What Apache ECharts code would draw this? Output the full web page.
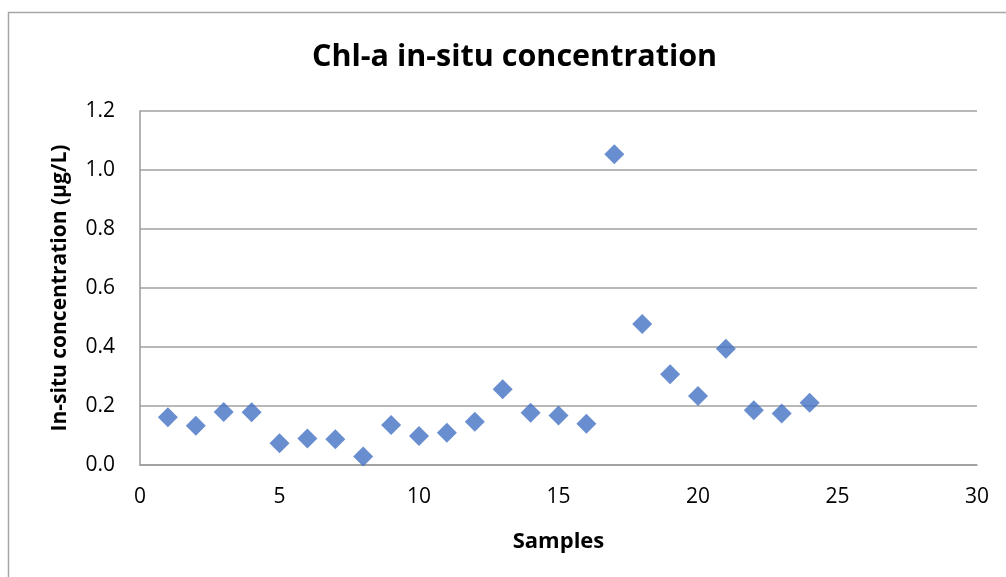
<!DOCTYPE html>
<html>
<head>
<meta charset="utf-8">
<script src="https://cdn.jsdelivr.net/npm/echarts@6/dist/echarts.min.js"></script>
<style>
  html, body { margin: 0; padding: 0; background: #fff; }
  #chart { width: 1006px; height: 577px; }
</style>
</head>
<body>
<div id="chart"></div>
<script>
// Sample numbers and measured chlorophyll-a (µg/L)
const samples = [1, 2, 3, 4, 5, 6, 7, 8, 9, 10, 11, 12, 13, 14, 15, 16, 17, 18, 19, 20, 21, 22, 23, 24];
const chlA = [0.162, 0.133, 0.180, 0.179, 0.074, 0.090, 0.087, 0.029, 0.136, 0.098, 0.109, 0.147,
              0.257, 0.177, 0.168, 0.140, 1.053, 0.478, 0.308, 0.234, 0.394, 0.186, 0.175, 0.211];
const xTicks = [0, 5, 10, 15, 20, 25, 30];
const yTicks = [0.0, 0.2, 0.4, 0.6, 0.8, 1.0, 1.2];

const FONT = '"Open Sans", Lato, sans-serif';
const points = samples.map((s, i) => [s, chlA[i]]);

const chart = echarts.init(document.getElementById('chart'), null, { renderer: 'canvas' });
chart.setOption({
  backgroundColor: '#ffffff',
  animation: false,
  graphic: [{
    type: 'rect',
    shape: { x: 8.5, y: 12.5, width: 1200, height: 800 },
    style: { fill: 'none', stroke: '#a6a6a6', lineWidth: 1.5 },
    silent: true
  }],
  title: {
    text: 'Chl-a in-situ concentration',
    left: 307,
    top: 37,
    textStyle: { fontFamily: FONT, fontWeight: 'bold', fontSize: 30.5, color: '#000' }
  },
  grid: { left: 140, right: 29, top: 111, bottom: 112 },
  xAxis: {
    type: 'value',
    min: xTicks[0],
    max: xTicks[xTicks.length - 1],
    interval: 5,
    name: 'Samples',
    nameLocation: 'middle',
    nameGap: 66,
    nameTextStyle: { fontFamily: FONT, fontWeight: 'bold', fontSize: 22, color: '#000' },
    axisLine: { show: true, lineStyle: { color: '#9a9a9a', width: 1.5 } },
    axisTick: { show: false },
    splitLine: { show: false },
    axisLabel: { fontFamily: FONT, fontSize: 21, color: '#000', margin: 22 }
  },
  yAxis: {
    type: 'value',
    min: yTicks[0],
    max: yTicks[yTicks.length - 1],
    interval: 0.2,
    name: 'In-situ concentration (µg/L)',
    nameLocation: 'middle',
    nameGap: 69,
    nameTextStyle: { fontFamily: FONT, fontWeight: 'bold', fontSize: 21, color: '#000' },
    axisLine: { show: true, lineStyle: { color: '#9a9a9a', width: 1.5 } },
    axisTick: { show: false },
    splitLine: { show: true, lineStyle: { color: '#a0a0a0', width: 1.5 } },
    axisLabel: {
      fontFamily: FONT, fontSize: 21, color: '#000', margin: 25,
      formatter: v => v.toFixed(1)
    }
  },
  series: [{
    type: 'scatter',
    data: points,
    symbol: 'diamond',
    symbolSize: [20, 20],
    itemStyle: { color: '#4472C4' }
  }]
});
</script>
</body>
</html>
